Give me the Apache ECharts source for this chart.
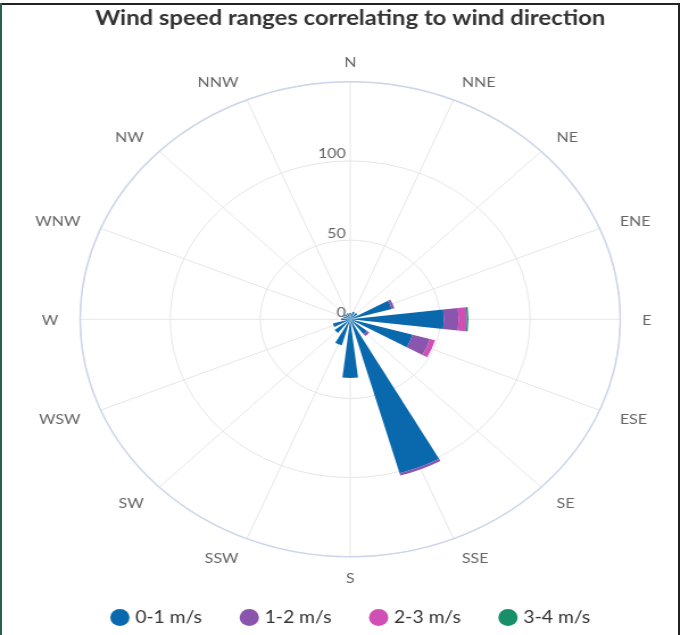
<!DOCTYPE html>
<html>
<head>
<meta charset="utf-8">
<script src="https://cdn.jsdelivr.net/npm/echarts@6/dist/echarts.min.js"></script>
<style>
  html, body { margin: 0; padding: 0; background: #fff; }
  #wrap { position: relative; width: 680px; height: 635px; overflow: hidden; }
  #chart { position: absolute; left: 0; top: 0; width: 615.6px; height: 635px; transform: scaleX(1.137); transform-origin: 0 0; }
  .b { position: absolute; }
</style>
</head>
<body>
<div id="wrap">
  <div id="chart"></div>
  <div class="b" style="left:0;top:3px;width:680px;height:2px;background:#222;"></div>
  <div class="b" style="left:0;top:3px;width:2px;height:632px;background:#24614f;"></div>
  <div class="b" style="left:678px;top:3px;width:2px;height:632px;background:#222;"></div>
</div>
<script>
const titleText = 'Wind speed ranges correlating to wind direction';
const directions = ['N','NNE','NE','ENE','E','ESE','SE','SSE','S','SSW','SW','WSW','W','WNW','NW','NNW'];
const seriesNames = ['0-1 m/s','1-2 m/s','2-3 m/s','3-4 m/s'];
const speed01 = [4, 5, 5, 24, 52, 36, 12, 101, 37, 17, 11, 10, 5, 4, 4, 4];
const speed12 = [0, 0, 0, 1.5, 8.2, 10, 1.5, 1.5, 0, 0, 0, 0, 0, 0, 0, 0];
const speed23 = [0, 0, 0, 0, 4.6, 3, 0, 0, 0, 0, 0, 0, 0, 0, 0, 0];
const speed34 = [0, 0, 0, 0, 0.9, 0, 0, 0, 0, 0, 0, 0, 0, 0, 0, 0];
const radiusTicks = [0, 50, 100, 150];
const colors = ['#0a69ad', '#8a55ad', '#d04fb4', '#178f68'];

const chart = echarts.init(document.getElementById('chart'), null, {renderer: 'canvas'});
const values = [speed01, speed12, speed23, speed34];
const rMin = radiusTicks[0], rMax = radiusTicks[radiusTicks.length - 1];
const center = ['50%', 319.3];
const labelStyle = {fontFamily: 'Lato', fontSize: 14, color: '#666'};
chart.setOption({
  animation: false,
  color: colors,
  title: {
    text: titleText, left: 'center', top: 3,
    textStyle: {fontFamily: 'Lato', fontSize: 21, fontWeight: 'bold', color: '#333'}
  },
  legend: {
    data: seriesNames, top: 604, left: 'center', icon: 'circle',
    itemWidth: 17, itemHeight: 17, itemGap: 33,
    textStyle: {fontFamily: 'Lato', fontSize: 17, color: '#333'}
  },
  polar: [
    {center: center, radius: 237.5},
    {center: center, radius: 237.5},
    {center: ['50%', 320.5], radius: 236.3}
  ],
  angleAxis: [
    {
      polarIndex: 0, type: 'category', data: directions, boundaryGap: false, startAngle: 90, clockwise: true,
      axisLine: {show: false}, axisTick: {show: false}, splitLine: {show: false}, axisLabel: {show: false}
    },
    {
      polarIndex: 1, type: 'value', min: 0, max: 360, interval: 22.5, startAngle: 90, clockwise: true,
      axisLine: {show: true, lineStyle: {color: '#ccd6eb', width: 1.5}},
      axisTick: {show: false}, axisLabel: {show: false},
      splitLine: {show: true, lineStyle: {color: '#e6e6e6', width: 1}}
    },
    {
      polarIndex: 2, type: 'category', data: directions, boundaryGap: false, startAngle: 90, clockwise: true,
      axisLine: {show: false}, axisTick: {show: false}, splitLine: {show: false},
      axisLabel: Object.assign({margin: 20.5, lineHeight: 2}, labelStyle)
    }
  ],
  radiusAxis: [
    {
      polarIndex: 0, type: 'value', min: rMin, max: rMax, interval: 50,
      axisLine: {show: false}, axisTick: {show: false}, splitLine: {show: false},
      axisLabel: Object.assign({showMaxLabel: false, margin: 4, verticalAlign: 'bottom'}, labelStyle),
      z: 10
    },
    {
      polarIndex: 1, type: 'value', min: rMin, max: rMax, interval: 50,
      axisLine: {show: false}, axisTick: {show: false}, axisLabel: {show: false},
      splitLine: {show: true, lineStyle: {color: '#e6e6e6', width: 1}}
    },
    {
      polarIndex: 2, type: 'value', min: rMin, max: rMax, interval: 50,
      axisLine: {show: false}, axisTick: {show: false}, axisLabel: {show: false}, splitLine: {show: false}
    }
  ],
  series: seriesNames.map((n, i) => ({
    type: 'bar', name: n, coordinateSystem: 'polar', polarIndex: 0, stack: 'wind',
    data: values[i], barWidth: '60%', itemStyle: {color: colors[i]}
  }))
});
</script>
</body>
</html>
